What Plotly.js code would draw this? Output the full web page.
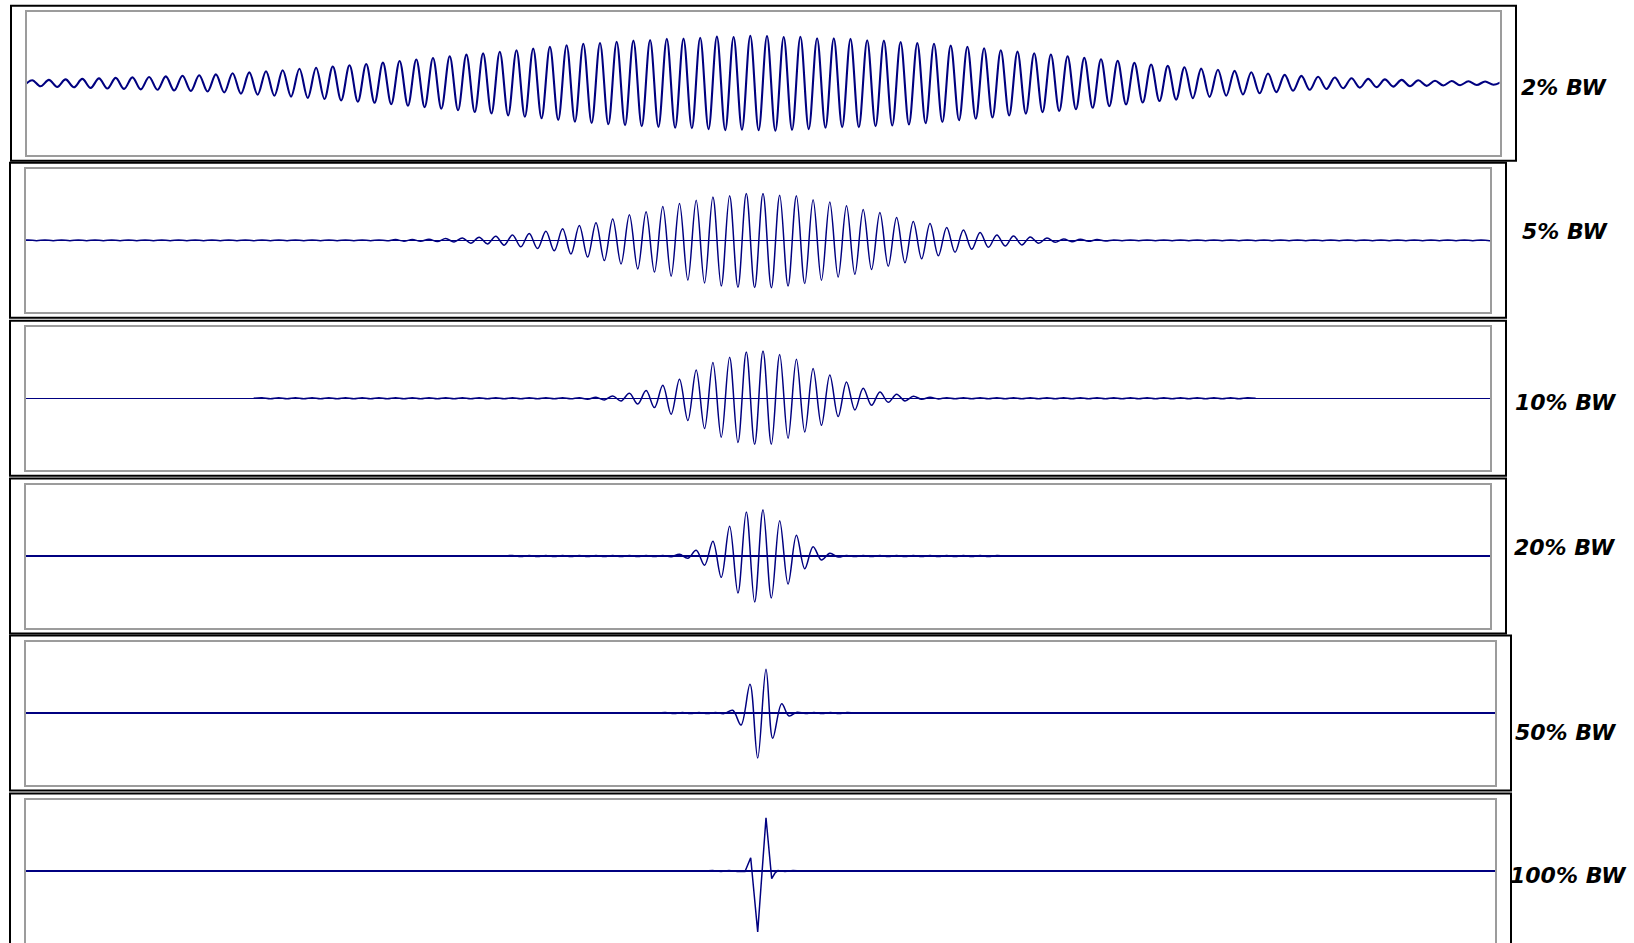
<!DOCTYPE html>
<html>
<head>
<meta charset="utf-8">
<script src="https://cdn.plot.ly/plotly-3.0.1.min.js"></script>
<style>html,body{margin:0;padding:0;background:#fff;overflow:hidden}</style>
</head>
<body>
<div id="chart" style="width:1634px;height:943px"></div>
<script>
// ---------- DATA (x in sample-position units, y = signal level) ----------
const labels = ["2% BW", "5% BW", "10% BW", "20% BW", "50% BW", "100% BW"];

// 2% bandwidth: extrema, uniformly spaced
const bw2_x0 = 23.85, bw2_dx = 8.35;
const bw2_y = [-2.8,
 3.0,-3.1, 3.3,-3.7, 3.8,-4.1, 4.3,-4.7, 4.8,-5.3, 5.3,-5.7, 5.8,-6.2, 6.2,-6.6, 6.8,-7.3, 7.5,-7.8,
 8.0,-8.3, 8.8,-9.3, 9.9,-10.5, 10.8,-11.5, 12.0,-12.5, 12.9,-13.4, 14.4,-14.8, 15.5,-15.8, 16.7,-17.2, 17.9,-18.5,
 19.2,-19.6, 20.6,-21.0, 22.2,-22.5, 23.7,-23.9, 25.2,-25.5, 26.9,-27.0, 28.6,-28.8, 29.8,-30.3, 31.5,-32.2, 33.0,-33.6,
 34.6,-35.1, 36.3,-36.7, 38.0,-38.5, 39.4,-39.8, 40.2,-41.0, 41.4,-41.9, 42.6,-43.0, 43.2,-43.7, 44.3,-44.6, 44.6,-45.0,
 45.4,-46.0, 46.6,-46.9, 46.2,-46.5, 47.4,-47.0, 47.2,-47.6, 46.2,-46.6, 46.5,-45.9, 45.0,-44.6, 44.8,-43.9, 44.3,-43.9,
 43.0,-43.0, 42.6,-42.3, 41.2,-41.3, 40.1,-40.0, 39.4,-38.8, 37.6,-37.0, 36.5,-35.6, 35.0,-34.3, 33.0,-32.3, 31.6,-30.4,
 30.0,-28.9, 28.7,-27.7, 27.0,-26.0, 25.3,-24.6, 24.0,-23.0, 22.3,-21.2, 20.3,-19.3, 18.7,-17.8, 17.3,-16.4, 16.0,-15.0,
 14.6,-13.7, 13.4,-12.5, 12.3,-11.3, 11.0,-10.1, 9.7,-8.9, 8.3,-7.6, 7.3,-6.6, 6.4,-5.8, 5.7,-5.1, 4.9,-4.4,
 4.3,-3.9, 3.8,-3.4, 3.3,-3.0, 2.9,-2.7, 2.5,-2.3, 2.2,-2.0, 1.9,-1.8, 1.7,-1.6,
 1.5];

// 5% bandwidth
const bw5_x0 = 19.85, bw5_dx = 8.35;
const bw5_y = [-0.4,
 0.4,-0.4, 0.4,-0.4, 0.4,-0.4, 0.4,-0.4, 0.4,-0.4, 0.4,-0.4, 0.4,-0.4, 0.4,-0.4, 0.4,-0.4, 0.4,-0.4, 0.4,-0.4,
 0.4,-0.4, 0.4,-0.4, 0.4,-0.4, 0.4,-0.4, 0.4,-0.4, 0.4,-0.4, 0.4,-0.4, 0.4,-0.4, 0.4,-0.4, 0.4,-0.4, 0.4,-0.4,
 0.7,-0.9, 0.8,-1.0, 1.1,-1.3, 1.7,-1.6, 2.4,-2.9, 3.1,-3.6, 4.1,-4.9, 5.4,-6.5, 6.8,-8.2, 9.1,-10.5,
 11.5,-13.8, 14.8,-16.8, 17.6,-20.3, 21.3,-23.7, 25.5,-28.7, 28.6,-31.8, 33.7,-35.9, 36.8,-39.8, 40.1,-42.6, 43.3,-45.8,
 44.5,-47.0, 46.7,-47.2, 46.7,-47.5, 45.0,-45.6, 44.6,-43.3, 40.6,-40.0, 38.3,-36.7, 34.5,-34.0, 30.9,-29.3, 27.7,-26.0,
 22.9,-22.5, 18.9,-18.5, 16.7,-15.5, 12.9,-12.0, 10.2,-9.0, 7.9,-7.0, 5.4,-5.6, 4.3,-4.6, 3.3,-3.0, 2.3,-2.0,
 1.4,-1.4, 1.0,-1.0, 0.7,-0.6,
 0.4,-0.4, 0.4,-0.4, 0.4,-0.4, 0.4,-0.4, 0.4,-0.4, 0.4,-0.4, 0.4,-0.4, 0.4,-0.4, 0.4,-0.4, 0.4,-0.4, 0.4,-0.4, 0.4,-0.4,
 0.4,-0.4, 0.4,-0.4, 0.4,-0.4, 0.4,-0.4, 0.4,-0.4, 0.4,-0.4, 0.4,-0.4, 0.4,-0.4, 0.4,-0.4, 0.4,-0.4, 0.4,-0.4,
 0.4];

// 10% bandwidth
const bw10_x0 = 253.65, bw10_dx = 8.35;
const bw10_y = [0,
 0.5,-0.5, 0.5,-0.5, 0.5,-0.5, 0.5,-0.5, 0.5,-0.5, 0.5,-0.5, 0.5,-0.5, 0.5,-0.5, 0.5,-0.5, 0.5,-0.5,
 0.5,-0.5, 0.5,-0.5, 0.5,-0.5, 0.5,-0.5, 0.5,-0.5, 0.5,-0.5, 0.5,-0.5, 0.5,-0.5, 0.5,-0.5,
 0.6,-1.0, 1.0,-1.7, 2.3,-2.7, 5.0,-5.7, 7.7,-9.3, 13.0,-16.0, 19.0,-22.3, 28.3,-30.3, 35.7,-39.0, 41.0,-44.3,
 46.3,-46.0, 47.3,-46.0, 43.7,-40.0, 39.0,-33.7, 29.7,-27.0, 23.3,-18.3, 16.3,-11.7, 10.0,-7.0, 6.3,-4.0, 4.0,-2.7,
 2.0,-1.0, 1.0,-0.6,
 0.5,-0.5, 0.5,-0.5, 0.5,-0.5, 0.5,-0.5, 0.5,-0.5, 0.5,-0.5, 0.5,-0.5, 0.5,-0.5, 0.5,-0.5,
 0.5,-0.5, 0.5,-0.5, 0.5,-0.5, 0.5,-0.5, 0.5,-0.5, 0.5,-0.5, 0.5,-0.5, 0.5,-0.5, 0.5,-0.5,
 0.5, 0];

// 20% bandwidth
const bw20_x0 = 504.15, bw20_dx = 8.35;
const bw20_y = [0,
 0.6,-0.6, 0.6,-0.6, 0.6,-0.6, 0.6,-0.6, 0.6,-0.6, 0.6,-0.6, 0.6,-0.6, 0.6,-0.6, 0.6,-0.6,
 0.6,-0.8, 1.7,-2.3, 5.7,-9.3, 14.7,-21.3, 29.7,-37.0, 44.0,-46.0, 46.3,-42.0, 35.3,-28.0, 20.7,-12.7, 9.3,-4.0,
 2.7,-1.0, 0.6,-0.6,
 0.6,-0.6, 0.6,-0.6, 0.6,-0.6, 0.6,-0.6, 0.6,-0.6, 0.6,-0.6, 0.6,-0.6, 0.6,-0.6,
 0.6, 0];

// 50% bandwidth (explicit sample positions)
const bw50_x = [657, 665.5, 674, 682.5, 690.5, 699, 707.5, 715.5, 724, 732.7, 741, 750, 757.7, 766, 772.7, 781.7, 789, 797, 805.5, 814, 822, 830.5, 839, 847, 855.5];
const bw50_y = [0, 0.5, -0.5, 0.5, -0.5, 0.5, -0.5, 0.5, -0.6, 2.7, -12, 28.7, -45, 43.7, -25.3, 9.3, -3, 0.8, -0.5, 0.5, -0.5, 0.5, -0.5, 0.5, 0];

// 100% bandwidth (explicit sample positions)
const bw100_x = [704, 712.5, 721, 729, 737.5, 745, 750.7, 757.7, 766, 771.7, 775, 778, 785, 793, 801];
const bw100_y = [0, 0.4, -0.4, 0.4, -0.4, -0.6, 13.3, -61, 53.3, -7.7, -2, 0.4, -0.4, 0.4, 0];

// ---------- LAYOUT GEOMETRY (pixels in the 1634x943 page) ----------
const W = 1634, H = 943;
const panels = [
  {inner:[27, 1499.5, 11.7, 154.7], outer:[11, 1516, 5.7, 160.7], label:[1519, 88], range:[27, 1499.5], lw:2.1, shape:'spline', zero:false},
  {inner:[26, 1490, 168.8, 311.8], outer:[10, 1506, 162.8, 317.8], label:[1520, 231], range:[26, 1490], lw:1.5, shape:'spline', zero:true},
  {inner:[26, 1490, 326.8, 469.8], outer:[10, 1506, 320.8, 475.8], label:[1513, 403], range:[26, 1490], lw:1.5, shape:'spline', zero:true},
  {inner:[26, 1490, 484.5, 627.5], outer:[10, 1506, 478.5, 633.5], label:[1512, 547], range:[26, 1490], lw:1.5, shape:'spline', zero:true},
  {inner:[26, 1495, 641.5, 784.5], outer:[10, 1511, 635.5, 790.5], label:[1513, 732], range:[26, 1495], lw:1.5, shape:'spline', zero:true},
  {inner:[26, 1495, 799.5, 942.5], outer:[10, 1511, 793.5, 948.5], label:[1508, 875], range:[26, 1495], lw:1.5, shape:'linear', zero:true}
];

const series = [
  {y: bw2_y, x0: bw2_x0, dx: bw2_dx},
  {y: bw5_y, x0: bw5_x0, dx: bw5_dx},
  {y: bw10_y, x0: bw10_x0, dx: bw10_dx},
  {y: bw20_y, x0: bw20_x0, dx: bw20_dx},
  {y: bw50_y, x: bw50_x},
  {y: bw100_y, x: bw100_x}
];

const NAVY = '#000080';
const traces = [];
const layout = {
  width: W, height: H,
  margin: {l:0, r:0, t:0, b:0},
  paper_bgcolor: '#ffffff', plot_bgcolor: '#ffffff',
  showlegend: false,
  shapes: [], annotations: []
};

panels.forEach((p, i) => {
  const n = i + 1;
  const xa = 'xaxis' + (n === 1 ? '' : n), ya = 'yaxis' + (n === 1 ? '' : n);
  const s = series[i];
  const tr = {
    type: 'scatter', mode: 'lines', y: s.y,
    xaxis: 'x' + (n === 1 ? '' : n), yaxis: 'y' + (n === 1 ? '' : n),
    line: {color: NAVY, width: p.lw, shape: p.shape, smoothing: 1},
    hoverinfo: 'skip', showlegend: false
  };
  if (s.x) tr.x = s.x; else { tr.x0 = s.x0; tr.dx = s.dx; }
  traces.push(tr);

  const [L, R, T, B] = p.inner;
  layout[xa] = {
    domain: [L / W, R / W], range: p.range, anchor: 'y' + (n === 1 ? '' : n),
    showgrid: false, zeroline: false, showticklabels: false, ticks: '',
    showline: true, mirror: true, linecolor: '#9c9c9c', linewidth: 2, fixedrange: true
  };
  layout[ya] = {
    domain: [1 - B / H, 1 - T / H], range: [-71.5, 71.5], anchor: 'x' + (n === 1 ? '' : n),
    showgrid: false, showticklabels: false, ticks: '',
    zeroline: p.zero, zerolinecolor: NAVY, zerolinewidth: 1.3,
    showline: true, mirror: true, linecolor: '#9c9c9c', linewidth: 2, fixedrange: true
  };
  const [oL, oR, oT, oB] = p.outer;
  layout.shapes.push({
    type: 'rect', xref: 'paper', yref: 'paper',
    x0: oL / W, x1: oR / W, y0: 1 - oB / H, y1: 1 - oT / H,
    line: {color: '#000000', width: 2}, fillcolor: 'rgba(0,0,0,0)'
  });
  layout.annotations.push({
    xref: 'paper', yref: 'paper', x: p.label[0] / W, y: 1 - p.label[1] / H,
    xanchor: 'left', yanchor: 'middle', showarrow: false, text: labels[i],
    font: {family: 'DejaVu Sans', size: 22, color: '#000000', weight: 'bold', style: 'italic'}
  });
});

Plotly.newPlot('chart', traces, layout, {displayModeBar: false, staticPlot: true});
</script>
</body>
</html>
